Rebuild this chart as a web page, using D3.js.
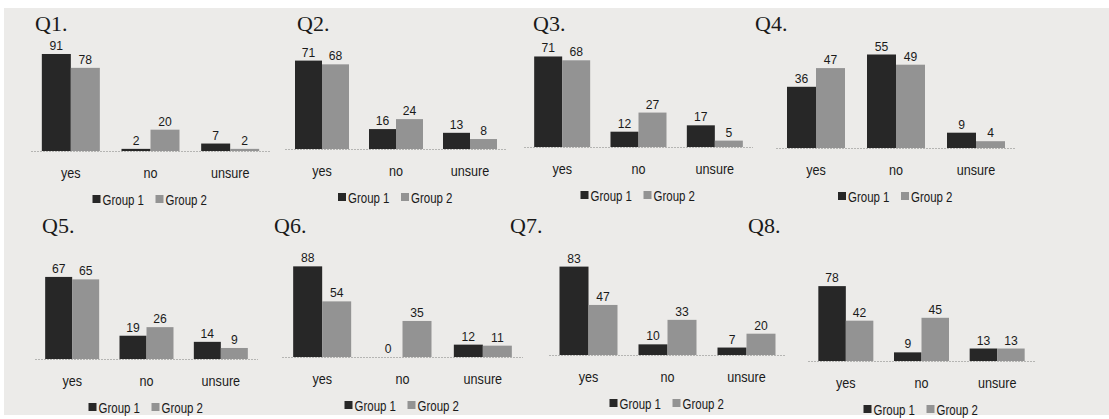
<!DOCTYPE html>
<html><head><meta charset="utf-8">
<script src="https://cdn.jsdelivr.net/npm/d3@7"></script>
<style>
html,body{margin:0;padding:0;background:#fff;}
svg{display:block;}
</style></head>
<body>
<svg id="chart" width="1109" height="419"></svg>
<script>
// ---- data ----
const titles = ["Q1.", "Q2.", "Q3.", "Q4.", "Q5.", "Q6.", "Q7.", "Q8."];
const categories = ["yes", "no", "unsure"];
const seriesNames = ["Group 1", "Group 2"];
const group1 = [[91, 2, 7], [71, 16, 13], [71, 12, 17], [36, 55, 9], [67, 19, 14], [88, 0, 12], [83, 10, 7], [78, 9, 13]];
const group2 = [[78, 20, 2], [68, 24, 8], [68, 27, 5], [47, 49, 4], [65, 26, 9], [54, 35, 11], [47, 33, 20], [42, 45, 13]];
const axisMax = [100, 80, 80, 60, 80, 100, 100, 100];

// ---- layout (pixels) ----
const layout = [
  {x0: 31, x1: 270, base: 151, h: 106.6, tx: 35, ty: 31, bw: 29},
  {x0: 285, x1: 507, base: 149, h: 99.6, tx: 297, ty: 31, bw: 27},
  {x0: 524, x1: 753, base: 147, h: 102, tx: 533, ty: 31, bw: 28},
  {x0: 776, x1: 1016, base: 148, h: 102, tx: 755, ty: 31, bw: 29},
  {x0: 35, x1: 258, base: 359, h: 98, tx: 42, ty: 233, bw: 27},
  {x0: 282, x1: 523, base: 357, h: 103, tx: 274, ty: 233, bw: 29},
  {x0: 549, x1: 786, base: 355, h: 106.5, tx: 510, ty: 233, bw: 29},
  {x0: 808, x1: 1035, base: 361, h: 96, tx: 748, ty: 233, bw: 27.5}
];
const colors = ["#272727", "#939393"];
const paper = "#ecebe9";
const sans = "'Liberation Sans',Arial,sans-serif";

const svg = d3.select("#chart");
svg.append("rect").attr("x", 0).attr("y", 0).attr("width", 1109).attr("height", 419).attr("fill", "#ffffff");
svg.append("rect").attr("x", 4).attr("y", 8).attr("width", 1105).attr("height", 407).attr("fill", paper);

function label(g, x, y, str, size, anchor, sx) {
  return g.append("text")
    .attr("transform", `translate(${x},${y}) scale(${sx},1)`)
    .attr("text-anchor", anchor).attr("font-family", sans)
    .attr("font-size", size).attr("fill", "#1a1a1a").text(str);
}

titles.forEach((t, i) => {
  const L = layout[i];
  const g = svg.append("g");
  const x = d3.scaleBand().domain(categories).range([L.x0, L.x1]).padding(0);
  const xs = d3.scaleBand().domain(seriesNames).range([0, 2 * L.bw]).padding(0);
  const y = d3.scaleLinear().domain([0, axisMax[i]]).range([L.base, L.base - L.h]);
  const rows = categories.map((c, k) => ({cat: c, vals: [group1[i][k], group2[i][k]]}));

  // title
  g.append("text").attr("x", L.tx).attr("y", L.ty)
    .attr("font-family", "'Liberation Serif','Times New Roman',serif")
    .attr("font-size", 22).attr("fill", "#1a1a1a").text(t);

  // axis line
  g.append("line").attr("x1", L.x0).attr("x2", L.x1)
    .attr("y1", L.base + 0.5).attr("y2", L.base + 0.5)
    .attr("stroke", "#b5b5b3").attr("stroke-width", 1).attr("stroke-dasharray", "2,1");

  // bars
  rows.forEach(r => {
    const cx = x(r.cat) + x.bandwidth() / 2 - L.bw;
    r.vals.forEach((v, s) => {
      const bx = cx + xs(seriesNames[s]);
      g.append("rect").attr("x", bx).attr("y", y(v))
        .attr("width", xs.bandwidth()).attr("height", Math.max(0, L.base - y(v)))
        .attr("fill", colors[s]);
      label(g, bx + xs.bandwidth() / 2, y(v) - 4, v, 13.5, "middle", 0.9);
    });
    label(g, x(r.cat) + x.bandwidth() / 2, L.base + 27, r.cat, 14, "middle", 0.9);
  });

  // legend centred on middle category
  const lc = x(categories[1]) + x.bandwidth() / 2;
  const lg = g.append("g").attr("transform", `translate(${lc - 58},${L.base + 54})`);
  seriesNames.forEach((n, s) => {
    const ox = s * 63;
    lg.append("rect").attr("x", ox).attr("y", -10).attr("width", 8).attr("height", 8).attr("fill", colors[s]);
    label(lg, ox + 10, 0, n, 14, "start", 0.82);
  });
});
</script>
</body></html>
